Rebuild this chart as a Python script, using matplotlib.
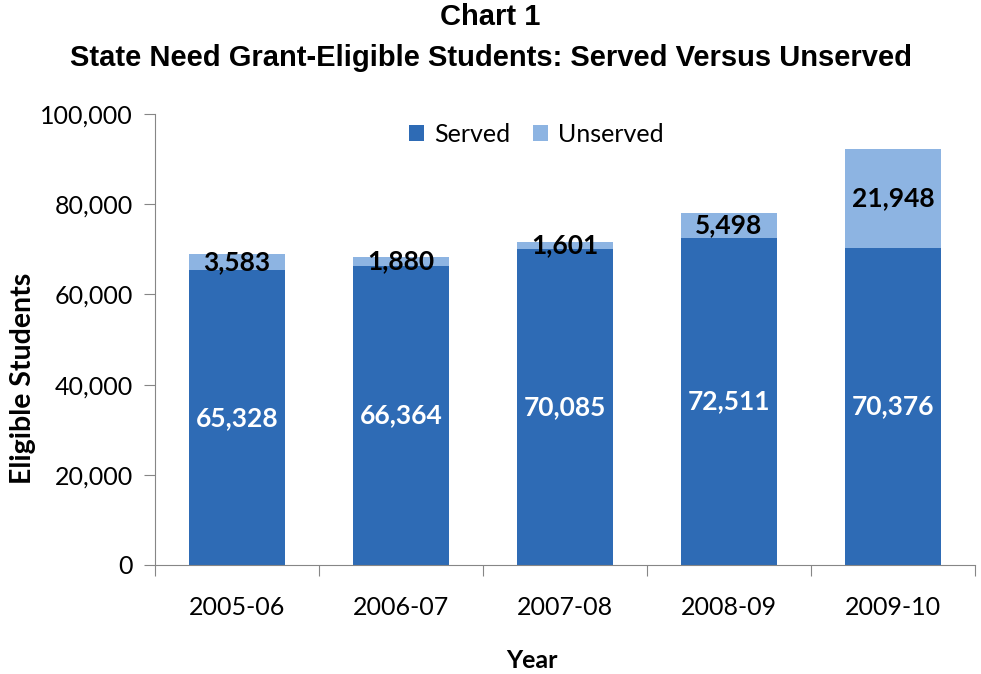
import matplotlib
matplotlib.use("Agg")
import matplotlib.pyplot as plt
import numpy as np

years = ["2005-06", "2006-07", "2007-08", "2008-09", "2009-10"]
served = [65328, 66364, 70085, 72511, 70376]
unserved = [3583, 1880, 1601, 5498, 21948]
yticks = [0, 20000, 40000, 60000, 80000, 100000]

c_served = "#2E6BB5"
c_unserved = "#8DB4E2"
gray = "#868686"
body = ["Lato", "DejaVu Sans"]

W, H = 981, 674
fig = plt.figure(figsize=(W / 100, H / 100), dpi=100)
ax = fig.add_axes([155 / W, (H - 565) / H, 820 / W, (565 - 114) / H])

x = np.arange(len(years))
bw = 0.59
ax.bar(x, served, bw, color=c_served, label="Served")
ax.bar(x, unserved, bw, bottom=served, color=c_unserved, label="Unserved")

for xi, s, u in zip(x, served, unserved):
    ax.text(xi, s / 2, f"{s:,}", ha="center", va="center", color="white",
            fontsize=19, fontweight="bold", family=body)
    ax.text(xi, s + u / 2, f"{u:,}", ha="center", va="center", color="black",
            fontsize=19, fontweight="bold", family=body)

ax.set_xlim(-0.5, len(years) - 0.5)
ax.set_ylim(0, 100000)
ax.set_yticks(yticks)
ax.set_yticklabels([f"{v:,}" for v in yticks], family=body, fontsize=18)
ax.set_xticks(np.arange(-0.5, len(years)), labels=[""] * (len(years) + 1))
ax.set_xticks(x, labels=years, minor=True)
ax.tick_params(axis="x", which="major", length=8, color=gray, direction="out")
ax.tick_params(axis="x", which="minor", length=0, pad=22, labelsize=18)
ax.tick_params(axis="y", length=8, color=gray, direction="out", pad=8, labelsize=18)
for lab in ax.get_xticklabels(minor=True):
    lab.set_family(body)
for sp in ["top", "right"]:
    ax.spines[sp].set_visible(False)
for sp in ["left", "bottom"]:
    ax.spines[sp].set_color(gray)

fig.text(23 / W, 1 - 378 / H, "Eligible Students", rotation=90, ha="center", va="center",
         fontsize=20.5, fontweight="bold", family=body)
fig.text(532 / W, 1 - 661 / H, "Year", ha="center", va="center",
         fontsize=18, fontweight="bold", family=body)

ax.legend(loc="upper center", ncol=2, frameon=False,
          handlelength=0.6, handleheight=0.6, columnspacing=0.9,
          handletextpad=0.4, bbox_to_anchor=(0.465, 1.03),
          prop={"family": body, "size": 18})

fig.text(0.5, 1 - 17 / H, "Chart 1", ha="center", va="center", fontsize=21,
         fontweight="bold", family="Liberation Sans")
fig.text(0.5, 1 - 58 / H, "State Need Grant-Eligible Students: Served Versus Unserved",
         ha="center", va="center", fontsize=21, fontweight="bold", family="Liberation Sans")

fig.savefig("out.png", dpi=100)
